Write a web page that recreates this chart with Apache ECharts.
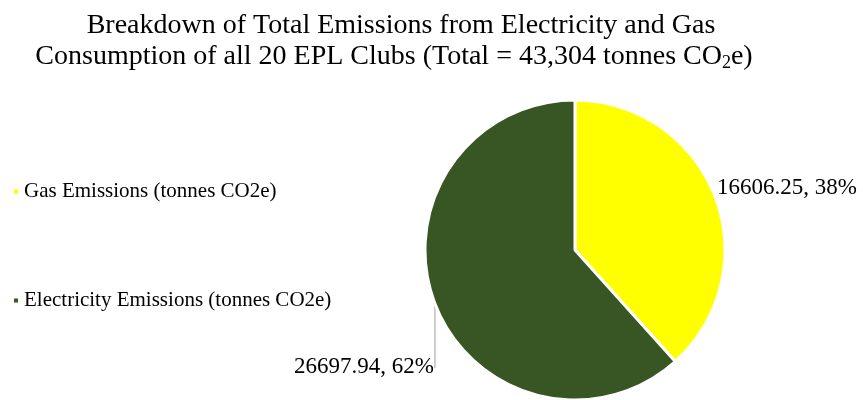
<!DOCTYPE html>
<html>
<head>
<meta charset="utf-8">
<script src="https://cdn.jsdelivr.net/npm/echarts@6/dist/echarts.min.js"></script>
<style>
html,body{margin:0;padding:0;background:#fff;}
#chart{width:863px;height:400px;}
</style>
</head>
<body>
<div id="chart"></div>
<script>
var categories = ['Gas Emissions (tonnes CO2e)', 'Electricity Emissions (tonnes CO2e)'];
var values = [16606.25, 26697.94];
var percents = ['38%', '62%'];
var colors = ['#FFFF00', '#375623'];

var FONT = '"Liberation Serif", "Times New Roman", serif';
var chart = echarts.init(document.getElementById('chart'), null, {renderer: 'canvas'});

var labelPos = [
  {x: 717, y: 188, align: 'left', verticalAlign: 'middle'},
  {x: 364, y: 367, align: 'center', verticalAlign: 'middle'}
];

chart.setOption({
  animation: false,
  backgroundColor: '#ffffff',
  title: {
    text: 'Breakdown of Total Emissions from Electricity and Gas\nConsumption of all 20 EPL Clubs (Total = 43,304 tonnes CO{sub|2}e)  ',
    left: 396,
    top: 5,
    textAlign: 'center',
    textStyle: {
      fontFamily: FONT,
      fontSize: 28,
      fontWeight: 'normal',
      color: '#000',
      lineHeight: 31,
      rich: {
        sub: {fontFamily: FONT, fontSize: 18, verticalAlign: 'bottom', padding: [16, 0, 0, 0], color: '#000', lineHeight: 31}
      }
    }
  },
  legend: {
    orient: 'vertical',
    left: 7,
    top: 176,
    itemGap: 88,
    itemWidth: 6,
    itemHeight: 6,
    icon: 'rect',
    selectedMode: false,
    textStyle: {fontFamily: FONT, fontSize: 21, color: '#000'},
    data: categories
  },
  series: [{
    type: 'pie',
    center: [575, 250],
    radius: [0, 150],
    startAngle: 90,
    clockwise: true,
    avoidLabelOverlap: false,
    itemStyle: {borderColor: '#fff', borderWidth: 3},
    label: {
      show: true,
      fontFamily: FONT,
      fontSize: 23,
      color: '#000',
      formatter: function (p) { return p.value + ', ' + percents[p.dataIndex]; }
    },
    labelLine: {show: true, lineStyle: {color: '#BFBFBF', width: 1.5}},
    labelLayout: function (p) { return labelPos[p.dataIndex]; },
    data: categories.map(function (c, i) {
      return {
        name: c,
        value: values[i],
        itemStyle: {color: colors[i]},
        labelLine: {show: i === 1}
      };
    })
  }]
});
</script>
</body>
</html>
